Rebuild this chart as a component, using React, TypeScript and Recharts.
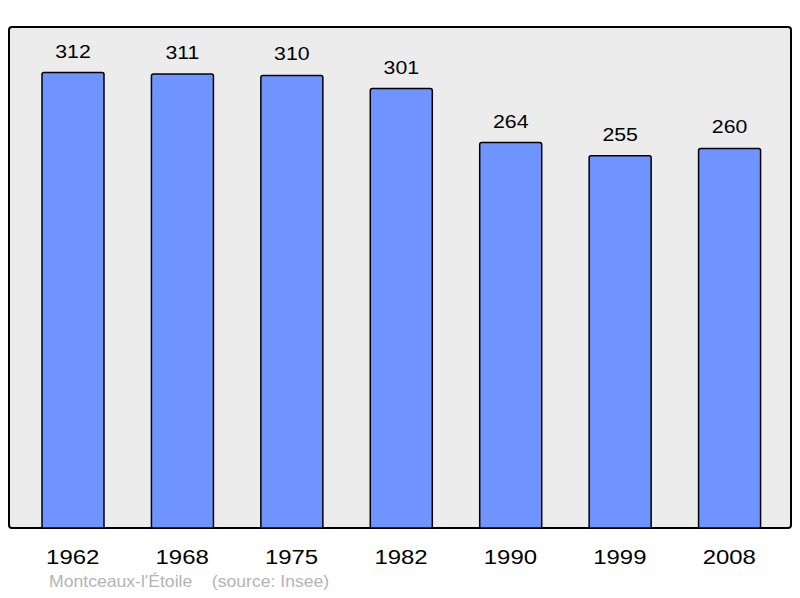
import React from "react";
import { BarChart, Bar, XAxis, YAxis, LabelList } from "recharts";

const annees = ["1962", "1968", "1975", "1982", "1990", "1999", "2008"];
const population = [312, 311, 310, 301, 264, 255, 260];

const data = annees.map((annee, i) => ({ annee, population: population[i] }));

const FONT = "'Liberation Sans', Arial, sans-serif";

// texte un peu étiré horizontalement comme dans l'original
const TickAnnee = (props: any) => {
  const { x, y, payload } = props;
  return (
    <g transform={`translate(${x},${y})`}>
      <text transform="scale(1.14,1)" textAnchor="middle" y={28} fontSize={21} fontFamily={FONT} fill="#000">
        {payload.value}
      </text>
    </g>
  );
};

const EtiquetteValeur = (props: any) => {
  const { x, y, width, value } = props;
  return (
    <g transform={`translate(${x + width / 2},${y - 15})`}>
      <text transform="scale(1.12,1)" textAnchor="middle" fontSize={19} fontFamily={FONT} fill="#000">
        {value}
      </text>
    </g>
  );
};

export default function App() {
  return (
    <div style={{ position: "absolute", top: 0, left: 0, width: 800, height: 598, background: "#fff" }}>
      {/* cadre gris arrondi */}
      <div
        style={{
          position: "absolute",
          left: 8,
          top: 26,
          width: 780,
          height: 499,
          border: "2px solid #000",
          borderRadius: 4,
          background: "#ececec",
        }}
      />
      <div style={{ position: "absolute", top: 0, left: 0 }}>
        <BarChart
          width={800}
          height={598}
          data={data}
          margin={{ top: 27, right: 16, left: 18, bottom: 0 }}
          barSize={62}
        >
          <XAxis dataKey="annee" axisLine={false} tickLine={false} tick={<TickAnnee />} interval={0} height={70} />
          <YAxis hide domain={[0, 343.2]} />
          <Bar
            dataKey="population"
            fill="#7094ff"
            stroke="#000"
            strokeWidth={1.5}
            radius={[2, 2, 0, 0]}
            isAnimationActive={false}
          >
            <LabelList dataKey="population" content={<EtiquetteValeur />} />
          </Bar>
        </BarChart>
      </div>
      <div
        style={{
          position: "absolute",
          left: 49,
          top: 573,
          fontFamily: FONT,
          fontSize: 16,
          color: "#b4b4b4",
          whiteSpace: "pre",
          transform: "scaleX(1.1)",
          transformOrigin: "left",
        }}
      >
        {"Montceaux-l'Étoile    (source: Insee)"}
      </div>
    </div>
  );
}
